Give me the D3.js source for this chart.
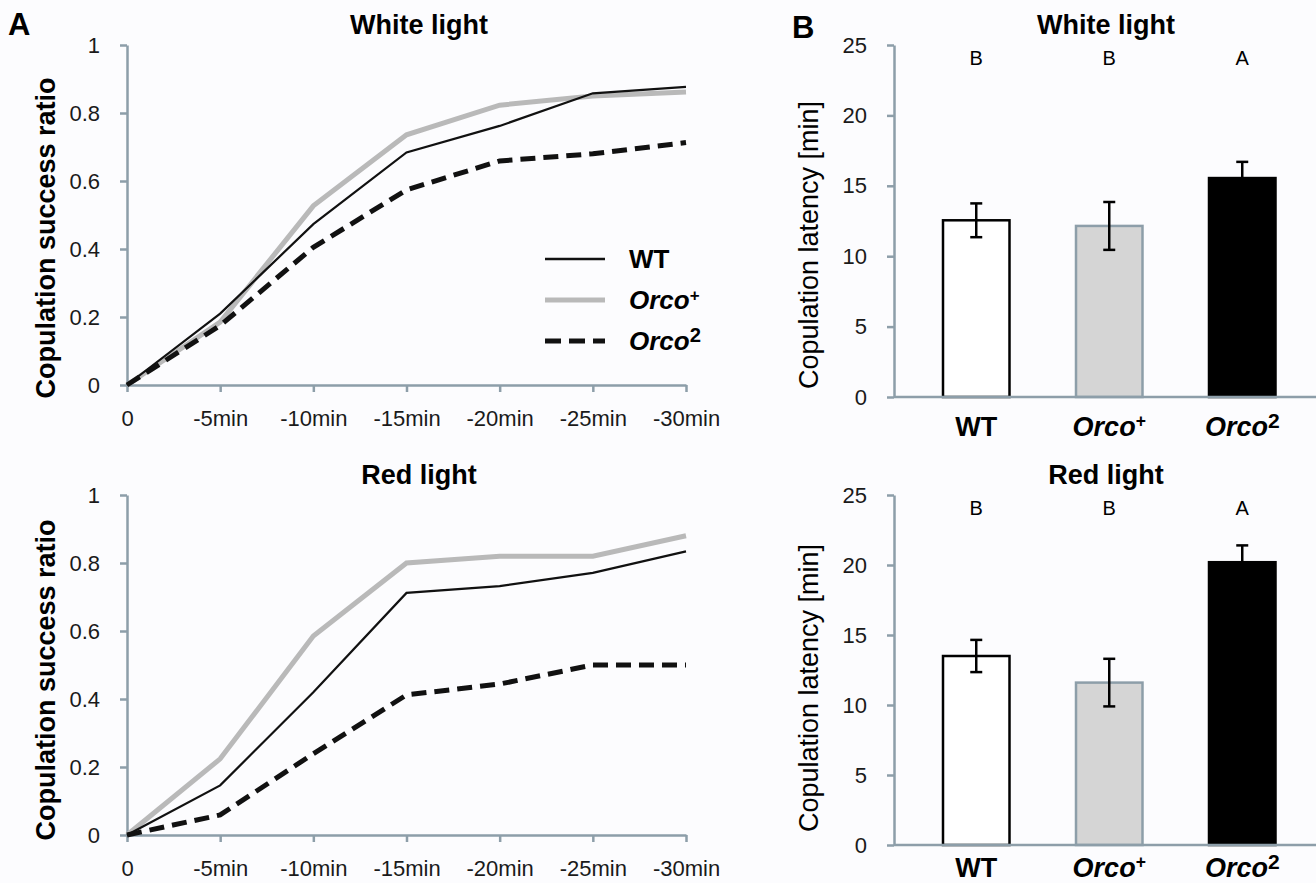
<!DOCTYPE html>
<html>
<head>
<meta charset="utf-8">
<script src="https://cdn.jsdelivr.net/npm/d3@7"></script>
<style>
  html, body { margin: 0; padding: 0; background: #fcfcfe; }
  svg { display: block; font-family: "Liberation Sans", Arial, sans-serif; }
</style>
</head>
<body>
<svg id="chart"></svg>
<script>
const W = 1316, H = 883;

// time points (x axis of panel A)
const timeLabels = ["0", "-5min", "-10min", "-15min", "-20min", "-25min", "-30min"];

// copulation success ratio, white light
const whiteWT = [0, 0.21, 0.473, 0.684, 0.762, 0.858, 0.877];
const whiteOrcoPlus = [0, 0.185, 0.527, 0.736, 0.823, 0.85, 0.862];
const whiteOrco2 = [0, 0.175, 0.405, 0.574, 0.659, 0.68, 0.713];

// copulation success ratio, red light
const redWT = [0, 0.146, 0.42, 0.712, 0.732, 0.771, 0.834];
const redOrcoPlus = [0, 0.224, 0.585, 0.80, 0.82, 0.82, 0.88];
const redOrco2 = [0, 0.059, 0.239, 0.412, 0.444, 0.50, 0.50];

// panel B
const genotypes = ["WT", "Orco+", "Orco2"];
const whiteLatency = [12.55, 12.15, 15.55];
const whiteErr = [1.2, 1.7, 1.15];
const redLatency = [13.5, 11.6, 20.2];
const redErr = [1.15, 1.7, 1.2];
const sigLetters = ["B", "B", "A"];

const axisColor = "#8d9ea9";

const svg = d3.select("#chart").attr("width", W).attr("height", H);
svg.append("rect").attr("width", W).attr("height", H).attr("fill", "#fcfcfe");

// genotype label with italic + superscript
function genoText(sel, name) {
  if (name === "WT") {
    sel.append("tspan").text("WT");
    return;
  }
  sel.append("tspan").attr("font-style", "italic").text("Orco");
  const sup = name === "Orco+" ? "+" : "2";
  sel.append("tspan")
    .attr("font-style", "normal")
    .attr("font-size", name === "Orco2" ? "0.78em" : "0.65em")
    .attr("dy", name === "Orco2" ? "-0.38em" : "-0.5em")
    .text(sup);
}

function styleAxis(g) {
  g.selectAll(".domain").attr("stroke", axisColor).attr("stroke-width", 2.5);
  g.selectAll(".tick line").attr("stroke", axisColor).attr("stroke-width", 2.5);
  g.selectAll(".tick text")
    .attr("fill", "#1a1a1a")
    .attr("font-size", 22)
    .attr("font-family", "Liberation Sans, Arial, sans-serif");
}

function linePanel(top, title, series, labelY) {
  const x = d3.scalePoint().domain(timeLabels).range([127, 686]);
  const y = d3.scaleLinear().domain([0, 1]).range([top + 340, top]);

  const g = svg.append("g");

  g.append("text")
    .attr("x", 419).attr("y", top - 11)
    .attr("text-anchor", "middle")
    .attr("font-size", 27).attr("font-weight", "bold")
    .text(title);

  const ya = g.append("g")
    .attr("transform", `translate(127,0)`)
    .call(d3.axisLeft(y).ticks(5).tickFormat(d3.format("~g")).tickSize(7).tickSizeOuter(0).tickPadding(20));
  styleAxis(ya);

  const xa = g.append("g")
    .attr("transform", `translate(0,${top + 340})`)
    .call(d3.axisBottom(x).tickSize(7).tickSizeOuter(0).tickPadding(18));
  styleAxis(xa);

  g.append("text")
    .attr("transform", `translate(55,${labelY}) rotate(-90)`)
    .attr("text-anchor", "middle")
    .attr("font-size", 27).attr("font-weight", "bold")
    .text("Copulation success ratio");

  const line = d3.line()
    .x((d, i) => x(timeLabels[i]))
    .y(d => y(d));

  g.append("path").datum(series[1]).attr("d", line)
    .attr("fill", "none").attr("stroke", "#b9b9b9").attr("stroke-width", 5);
  g.append("path").datum(series[0]).attr("d", line)
    .attr("fill", "none").attr("stroke", "#111").attr("stroke-width", 2.2);
  g.append("path").datum(series[2]).attr("d", line)
    .attr("fill", "none").attr("stroke", "#111").attr("stroke-width", 5)
    .attr("stroke-dasharray", "15,8");
}

linePanel(45, "White light", [whiteWT, whiteOrcoPlus, whiteOrco2], 238);
linePanel(495, "Red light", [redWT, redOrcoPlus, redOrco2], 680);

// legend
const legendStyles = [
  { stroke: "#111", width: 2.5, dash: null },
  { stroke: "#b9b9b9", width: 5, dash: null },
  { stroke: "#111", width: 5, dash: "16,8" }
];
const legend = svg.append("g");
genotypes.forEach((name, i) => {
  const yy = 259 + i * 41;
  legend.append("line")
    .attr("x1", 545).attr("x2", 605).attr("y1", yy).attr("y2", yy)
    .attr("stroke", legendStyles[i].stroke)
    .attr("stroke-width", legendStyles[i].width)
    .attr("stroke-dasharray", legendStyles[i].dash);
  legend.append("text")
    .attr("x", 629).attr("y", yy + 9)
    .attr("font-size", 26).attr("font-weight", "bold")
    .call(t => genoText(t, name));
});

// panel letters
svg.append("text").attr("x", 8).attr("y", 35)
  .attr("font-size", 31).attr("font-weight", "bold").text("A");
svg.append("text").attr("x", 792).attr("y", 38)
  .attr("font-size", 31).attr("font-weight", "bold").text("B");

function barPanel(top, bottom, title, values, errs, labelY) {
  const x = d3.scaleBand().domain(genotypes).range([909.75, 1308.75])
    .paddingInner(0.5).paddingOuter(0.25);
  const y = d3.scaleLinear().domain([0, 25]).range([bottom, top]);

  const g = svg.append("g");

  g.append("text")
    .attr("x", 1106).attr("y", top - 11)
    .attr("text-anchor", "middle")
    .attr("font-size", 27).attr("font-weight", "bold")
    .text(title);

  const fills = ["#ffffff", "#d5d5d5", "#000000"];
  const strokes = ["#000000", axisColor, "#000000"];

  g.selectAll("rect.bar")
    .data(genotypes)
    .join("rect")
    .attr("class", "bar")
    .attr("x", d => x(d))
    .attr("width", x.bandwidth())
    .attr("y", (d, i) => y(values[i]))
    .attr("height", (d, i) => bottom - y(values[i]))
    .attr("fill", (d, i) => fills[i])
    .attr("stroke", (d, i) => strokes[i])
    .attr("stroke-width", 2.5);

  // error bars
  genotypes.forEach((d, i) => {
    const cx = x(d) + x.bandwidth() / 2;
    const hi = y(values[i] + errs[i]);
    const lo = y(values[i] - errs[i]);
    g.append("line").attr("x1", cx).attr("x2", cx).attr("y1", hi).attr("y2", lo)
      .attr("stroke", "#000").attr("stroke-width", 2.5);
    g.append("line").attr("x1", cx - 6).attr("x2", cx + 6).attr("y1", hi).attr("y2", hi)
      .attr("stroke", "#000").attr("stroke-width", 2.5);
    g.append("line").attr("x1", cx - 6).attr("x2", cx + 6).attr("y1", lo).attr("y2", lo)
      .attr("stroke", "#000").attr("stroke-width", 2.5);
  });

  // significance letters
  g.selectAll("text.sig")
    .data(genotypes)
    .join("text")
    .attr("class", "sig")
    .attr("x", d => x(d) + x.bandwidth() / 2)
    .attr("y", top + 20)
    .attr("text-anchor", "middle")
    .attr("font-size", 20)
    .text((d, i) => sigLetters[i]);

  const ya = g.append("g")
    .attr("transform", `translate(894,0)`)
    .call(d3.axisLeft(y).ticks(5).tickSize(7).tickSizeOuter(0).tickPadding(20));
  styleAxis(ya);

  g.append("line")
    .attr("x1", 894).attr("x2", W).attr("y1", bottom).attr("y2", bottom)
    .attr("stroke", axisColor).attr("stroke-width", 2.5);

  genotypes.forEach(d => {
    g.append("text")
      .attr("x", x(d) + x.bandwidth() / 2)
      .attr("y", Math.min(bottom + 39, H - 6))
      .attr("text-anchor", "middle")
      .attr("font-size", 27).attr("font-weight", "bold")
      .call(t => genoText(t, d));
  });

  g.append("text")
    .attr("transform", `translate(818,${labelY}) rotate(-90)`)
    .attr("text-anchor", "middle")
    .attr("font-size", 27)
    .text("Copulation latency [min]");
}

barPanel(45, 397, "White light", whiteLatency, whiteErr, 245);
barPanel(495, 845, "Red light", redLatency, redErr, 688);
</script>
</body>
</html>
